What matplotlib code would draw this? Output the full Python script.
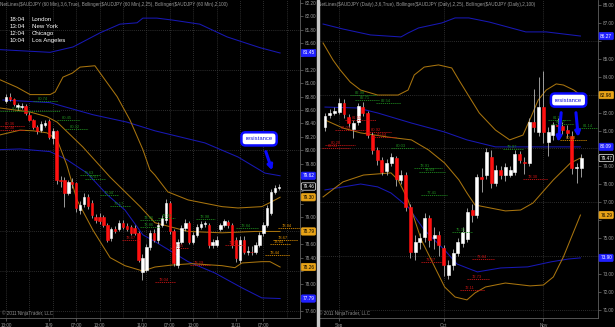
import numpy as np
import matplotlib
matplotlib.use("Agg")
import matplotlib.pyplot as plt

plt.rcParams['font.family'] = ['Liberation Sans', 'DejaVu Sans']

# ---------------- AUDJPY 60 min ----------------
h_open = [80.73, 80.80, 80.76, 80.64, 80.64, 80.66, 80.53, 80.45, 80.34, 80.30,
          80.38, 80.43, 80.18, 80.28, 79.56, 79.56, 79.37, 79.52, 79.51, 79.11,
          79.20, 79.31, 79.22, 79.01, 79.01, 79.01, 78.89, 78.69, 78.83, 78.82,
          78.92, 78.87, 78.86, 78.84, 78.77, 78.19, 78.22, 78.56, 78.77, 78.67,
          78.89, 78.96, 79.22, 78.79, 78.29, 78.64, 78.84, 78.92, 78.64, 78.74,
          78.86, 78.90, 78.88, 78.59, 78.59, 78.82, 78.89, 78.93, 78.88, 78.67,
          78.37, 78.67, 78.49, 78.49, 78.49, 78.59, 78.76, 78.89, 79.07, 79.38,
          79.44]
h_close = [80.80, 80.76, 80.69, 80.67, 80.66, 80.56, 80.45, 80.34, 80.29, 80.39,
           80.41, 80.20, 80.28, 79.56, 79.54, 79.37, 79.52, 79.49, 79.14, 79.19,
           79.31, 79.17, 79.04, 78.96, 78.94, 78.89, 78.67, 78.82, 78.79, 78.92,
           78.86, 78.83, 78.77, 78.77, 78.37, 78.40, 78.56, 78.77, 78.67, 78.89,
           78.99, 79.22, 78.79, 78.32, 78.64, 78.84, 78.92, 78.64, 78.74, 78.86,
           78.90, 78.91, 78.59, 78.64, 78.67, 78.88, 78.94, 78.88, 78.59, 78.39,
           78.67, 78.49, 78.50, 78.48, 78.59, 78.74, 78.89, 79.14, 79.38, 79.44,
           79.46]
h_high = [80.84, 80.85, 80.78, 80.70, 80.71, 80.69, 80.57, 80.47, 80.37, 80.44,
          80.45, 80.47, 80.33, 80.30, 79.62, 79.60, 79.56, 79.58, 79.53, 79.24,
          79.36, 79.35, 79.26, 79.05, 79.06, 79.04, 78.92, 78.86, 78.87, 78.96,
          78.96, 78.91, 78.89, 78.88, 78.80, 78.45, 78.60, 78.81, 78.82, 78.93,
          79.04, 79.27, 79.25, 78.82, 78.68, 78.88, 78.97, 78.95, 78.78, 78.90,
          78.94, 78.95, 78.92, 78.68, 78.72, 78.91, 78.97, 78.96, 78.91, 78.70,
          78.72, 78.72, 78.58, 78.57, 78.64, 78.78, 78.93, 79.18, 79.42, 79.48,
          79.50]
h_low = [80.70, 80.74, 80.66, 80.60, 80.62, 80.53, 80.43, 80.31, 80.25, 80.27,
         80.35, 80.17, 80.10, 79.50, 79.45, 79.16, 79.33, 79.44, 79.08, 79.05,
         79.16, 79.12, 78.99, 78.92, 78.90, 78.85, 78.63, 78.65, 78.76, 78.79,
         78.83, 78.80, 78.73, 78.74, 78.33, 78.07, 78.18, 78.52, 78.63, 78.62,
         78.85, 78.92, 78.75, 78.27, 78.25, 78.60, 78.80, 78.60, 78.60, 78.70,
         78.83, 78.86, 78.55, 78.55, 78.56, 78.79, 78.85, 78.84, 78.55, 78.33,
         78.32, 78.45, 78.44, 78.44, 78.46, 78.56, 78.72, 78.86, 79.03, 79.35,
         79.41]
h_xticks = [0, 11, 18, 24, 35, 42, 48, 59, 66]
h_xlabels = ["13:00", "11/9", "07:00", "13:00", "11/10", "07:00", "13:00", "11/11", "07:00"]

# Bollinger bands, (bar, price)
h_bb100_upper = [(-1.5, 81.50), (11.3, 81.46), (17.2, 81.54), (24.1, 81.75), (29.2, 81.88),
                 (33.6, 81.90), (35.1, 81.97), (38.7, 81.97), (42.8, 81.94), (49.7, 81.88),
                 (56.7, 81.69), (65.1, 81.53), (70.3, 81.45)]
h_bb100_mid = [(-0.8, 80.75), (11.3, 80.71), (22.3, 80.53), (31.0, 80.42), (38.2, 80.29),
               (51.0, 80.11), (59.5, 79.90), (66.4, 79.66), (70.3, 79.62)]
h_bb100_lower = [(-1.5, 80.01), (3.6, 80.02), (11.3, 79.98), (15.6, 79.86), (20.8, 79.66),
                 (25.9, 79.34), (30.5, 79.11), (35.1, 78.74), (38.2, 78.64), (46.7, 78.34),
                 (53.6, 78.17), (60.5, 77.95), (65.6, 77.80), (70.3, 77.79)]
h_bb25_upper = [(-1.5, 81.05), (2.8, 80.94), (6.2, 80.83), (11.3, 80.83), (12.6, 80.87),
                (14.6, 81.09), (17.0, 81.15), (19.0, 81.24), (22.8, 81.26), (24.9, 81.09),
                (28.5, 80.80), (31.8, 80.45), (35.1, 80.01), (36.9, 79.71), (38.2, 79.63),
                (41.5, 79.38), (46.7, 79.26), (55.4, 79.16), (59.5, 79.14), (65.6, 79.16),
                (67.7, 79.22), (70.3, 79.30)]
h_bb25_mid = [(-1.5, 80.63), (6.2, 80.57), (10.5, 80.50), (13.1, 80.42), (19.7, 80.05),
              (26.7, 79.60), (34.4, 79.16), (38.2, 78.92), (46.7, 78.79), (55.4, 78.77),
              (63.8, 78.79), (70.3, 78.79)]
h_bb25_lower = [(-1.5, 80.23), (3.6, 80.30), (7.0, 80.29), (10.5, 80.26), (13.1, 80.16),
                (15.6, 79.78), (18.2, 79.26), (22.3, 78.81), (26.7, 78.40), (30.5, 78.28),
                (35.1, 78.20), (38.2, 78.26), (42.6, 78.29), (47.7, 78.31), (55.4, 78.28),
                (58.7, 78.25), (60.5, 78.32), (65.6, 78.34), (67.7, 78.34), (70.3, 78.26)]

# NetLines: (start bar, end bar, price, kind)
h_netlines = [(6.9, 13.3, 80.74, 'g'), (-1.5, 13.8, 80.59, 'g'), (13.1, 19.0, 80.45, 'g'),
              (15.1, 21.0, 80.32, 'g'), (-1.5, 4.9, 80.36, 'r'), (-1.5, 4.9, 80.30, 'r'),
              (19.0, 24.1, 79.63, 'g'), (20.3, 25.4, 79.57, 'g'), (24.1, 28.7, 79.34, 'g'),
              (26.7, 31.8, 79.17, 'g'), (34.4, 39.5, 78.96, 'g'), (34.4, 39.5, 78.86, 'g'),
              (29.7, 34.4, 78.67, 'r'), (39.0, 43.3, 78.99, 'g'), (48.7, 53.6, 78.98, 'g'),
              (59.0, 64.6, 78.84, 'g'), (42.0, 46.7, 78.55, 'r'), (47.2, 52.3, 78.29, 'r'),
              (38.2, 43.3, 78.04, 'r'), (56.2, 61.3, 78.59, 'r'), (69.7, 75.4, 78.84, 'o'),
              (68.5, 74.9, 78.67, 'o'), (67.7, 72.8, 78.61, 'o'), (66.4, 72.8, 78.44, 'o')]

# ---------------- AUDJPY daily ----------------
d_open = [81.20, 81.87, 81.98, 82.04, 82.54, 81.76, 81.09, 81.48, 82.31, 81.98,
          80.75, 79.92, 79.36, 78.75, 79.19, 79.45, 78.25, 78.52, 76.74, 74.23,
          74.79, 75.07, 76.13, 75.01, 75.18, 74.46, 72.95, 73.51, 74.18, 74.73,
          74.95, 76.57, 76.29, 78.41, 78.52, 79.53, 78.08, 78.80, 78.52, 78.52,
          78.69, 79.70, 79.25, 79.19, 81.48, 80.92, 82.31, 80.36, 80.75, 81.31,
          81.25, 81.03, 80.70, 78.91, 78.91]
d_close = [81.81, 81.98, 82.09, 82.54, 81.90, 81.42, 81.42, 82.37, 81.98, 80.75,
           79.92, 79.36, 78.69, 79.19, 79.53, 78.30, 78.52, 76.74, 74.23, 74.79,
           75.01, 76.13, 74.90, 75.18, 74.62, 73.51, 73.51, 74.18, 74.79, 75.35,
           76.46, 76.29, 78.41, 78.30, 79.81, 78.08, 78.80, 78.52, 78.97, 78.80,
           79.70, 79.36, 79.19, 81.48, 81.20, 82.31, 80.92, 80.92, 81.31, 81.25,
           81.03, 80.87, 78.91, 78.95, 79.47]
d_high = [82.00, 82.20, 82.30, 82.80, 82.75, 81.95, 81.60, 82.55, 82.60, 82.10,
          80.90, 80.10, 79.50, 79.40, 79.75, 79.60, 78.80, 78.70, 76.90, 75.20,
          75.30, 76.40, 76.30, 75.60, 75.40, 74.60, 73.80, 74.40, 75.00, 75.60,
          76.70, 76.90, 78.60, 78.90, 80.00, 79.90, 79.10, 79.00, 79.20, 79.00,
          79.90, 79.85, 79.50, 81.70, 83.30, 84.00, 84.30, 81.20, 81.50, 81.70,
          81.50, 81.30, 81.00, 79.20, 79.70]
d_low = [80.95, 81.70, 81.85, 81.95, 81.70, 81.20, 80.60, 81.30, 81.80, 80.60,
         79.70, 79.10, 78.50, 78.55, 79.00, 77.90, 78.00, 76.50, 73.90, 73.80,
         74.40, 74.80, 74.50, 74.40, 74.00, 72.90, 72.70, 73.20, 74.00, 74.50,
         74.80, 75.90, 76.10, 77.60, 78.30, 77.80, 77.90, 78.30, 78.20, 78.40,
         78.50, 79.20, 78.60, 79.00, 80.90, 80.70, 80.30, 79.60, 80.50, 80.90,
         80.80, 80.60, 78.60, 78.10, 78.40]
d_xticks = [3, 25, 46]
d_xlabels = ["Sep", "Oct", "Nov"]

d_bb100_upper = [(-0.4, 86.94), (3.8, 86.66), (9.6, 86.33), (16.0, 86.22), (17.5, 86.44),
                 (19.7, 86.72), (24.6, 87.00), (27.4, 87.28), (30.3, 87.28), (34.6, 87.05),
                 (42.3, 86.50), (46.6, 86.50), (53.8, 86.27)]
d_bb100_mid = [(0, 82.31), (6.8, 82.26), (11.1, 81.98), (18.2, 81.42), (25.2, 80.92),
               (29.9, 80.48), (35.9, 80.09), (53.8, 80.09)]
d_bb100_lower = [(0, 77.69), (7.5, 78.02), (11.1, 77.86), (13.9, 77.52), (17.5, 76.74),
                 (20.9, 75.46), (25.2, 74.34), (27.8, 73.56), (31.0, 73.23), (32.1, 73.12),
                 (37.0, 73.34), (42.7, 73.40), (47.6, 73.68), (51.3, 73.84), (53.8, 73.90)]
d_bb25_upper = [(-0.4, 85.88), (1.7, 84.93), (3.2, 84.38), (5.3, 83.71), (7.5, 83.26),
                (11.1, 82.98), (15.4, 82.98), (17.5, 83.26), (18.8, 84.10), (20.9, 84.54),
                (23.9, 84.66), (26.7, 84.49), (28.2, 83.82), (29.9, 83.09), (32.5, 81.98),
                (35.9, 81.03), (38.9, 80.48), (41.7, 80.75), (43.4, 81.76), (44.9, 82.70),
                (46.6, 83.26), (48.7, 83.60), (50.2, 83.54), (52.4, 83.26), (53.8, 82.98)]
d_bb25_mid = [(0, 81.59), (3.8, 81.14), (7.5, 80.87), (13.2, 80.64), (18.2, 80.48),
              (21.8, 79.92), (25.2, 79.19), (28.2, 78.25), (29.9, 77.52), (31.6, 76.85),
              (38.0, 76.52), (41.2, 76.57), (43.8, 76.96), (48.1, 78.25), (51.7, 79.19),
              (53.8, 79.47)]
d_bb25_lower = [(-0.4, 77.30), (3.8, 78.14), (8.1, 78.52), (13.9, 78.64), (15.4, 78.25),
                (17.5, 77.13), (20.3, 74.90), (23.1, 73.40), (25.2, 72.28), (27.4, 71.72),
                (29.9, 71.56), (31.6, 71.95), (33.8, 72.28), (38.0, 72.50), (43.2, 72.34),
                (46.0, 72.39), (48.1, 72.84), (50.2, 73.95), (53.8, 76.29)]

d_netlines = [(5.3, 10.7, 82.98, 'g'), (6.4, 11.3, 82.71, 'g'), (10.7, 16.0, 82.54, 'g'),
              (4.3, 10.7, 81.59, 'r'), (2.1, 8.5, 81.03, 'r'), (8.5, 13.9, 80.92, 'r'),
              (10.0, 15.0, 80.64, 'r'), (0.0, 6.4, 80.20, 'r'), (-0.6, 5.3, 80.03, 'r'),
              (13.9, 18.8, 80.03, 'g'), (18.8, 24.6, 78.91, 'g'), (19.9, 25.2, 78.69, 'g'),
              (20.3, 25.6, 77.41, 'g'), (47.0, 51.9, 81.59, 'g'), (47.6, 52.4, 81.37, 'g'),
              (53.4, 58.3, 81.14, 'g'), (49.6, 55.1, 80.48, 'o'), (37.4, 41.7, 79.97, 'g'),
              (41.7, 47.0, 78.30, 'r'), (26.7, 31.0, 75.35, 'g'), (20.3, 24.6, 73.67, 'r'),
              (31.0, 35.7, 73.84, 'r'), (29.9, 34.6, 72.73, 'r'), (28.4, 33.8, 72.11, 'r')]

NET_COL = {'g': '#1f8a1f', 'r': '#c81414', 'o': '#d98c00'}
BLUE = '#1818b4'
ORANGE = '#a8740e'
GRID = '#3c3c3c'
TXT = '#9a9a9a'
BOX_BLUE = '#2020ff'
BOX_ORANGE = '#e8a317'

fig = plt.figure(figsize=(6.15, 3.27), dpi=100, facecolor='black')
ax1 = fig.add_axes([0, 9 / 327, 300 / 615, 318 / 327], facecolor='black')
ax2 = fig.add_axes([318 / 615, 9 / 327, 280 / 615, 318 / 327], facecolor='black')


def candles(ax, o, h, l, c, w=0.62):
    o, h, l, c = map(np.asarray, (o, h, l, c))
    x = np.arange(len(o))
    up = c >= o
    ax.vlines(x, l, h, color='#b4b4b4', lw=0.6, zorder=3)
    ax.bar(x[up], (c - o)[up], bottom=o[up], width=w, color='white',
           edgecolor='white', lw=0.4, zorder=4)
    ax.bar(x[~up], (c - o)[~up], bottom=o[~up], width=w, color='#ff1010',
           edgecolor='#ff1010', lw=0.4, zorder=4)


def band(ax, pts, col):
    xs, ys = zip(*pts)
    ax.plot(xs, ys, color=col, lw=0.75, zorder=2)


def axboxes(ax, boxes, near):
    # value boxes on the price axis; they hide the tick labels underneath
    labels = []
    for t in ax.get_yticks():
        hidden = any(abs(t - v) < near for v, _, _, _ in boxes)
        labels.append("" if hidden else f"{t:.2f}")
    ax.set_yticks(ax.get_yticks())
    ax.set_yticklabels(labels)
    for v, fc, tc, ec in boxes:
        ax.text(1.008, v, f"{v:.2f}", transform=ax.get_yaxis_transform(), fontsize=3.4,
                color=tc, va='center', ha='left', clip_on=False, zorder=10,
                bbox=dict(boxstyle='round,pad=0.25', fc=fc, ec=ec, lw=0.5))


def setup(ax, xlim, ylim, yticks, ygrid, xgrid, xticks, xlabels, header):
    ax.set_xlim(*xlim)
    ax.set_ylim(*ylim)
    ax.yaxis.tick_right()
    ax.set_yticks(yticks)
    ax.set_xticks(xticks)
    ax.set_xticklabels(xlabels)
    ax.tick_params(colors='#707070', labelcolor=TXT, labelsize=3.3, length=2,
                   width=0.5, pad=1.5)
    for s in ['top', 'left']:
        ax.spines[s].set_visible(False)
    for s in ['right', 'bottom']:
        ax.spines[s].set_color('#606060')
        ax.spines[s].set_linewidth(0.6)
    for g in ygrid:
        ax.axhline(g, color=GRID, lw=0.6, ls=(0, (1, 1.5)), zorder=1)
    for g in xgrid:
        ax.axvline(g, color=GRID, lw=0.6, ls=(0, (1, 1.5)), zorder=1)
    ax.text(0.0, 0.995, header, transform=ax.transAxes, fontsize=3.3, color=TXT,
            va='top', ha='left')
    ax.text(0.005, 0.006, "\u00a9 2011 NinjaTrader, LLC", transform=ax.transAxes,
            fontsize=3.3, color='#8a8a8a', va='bottom', ha='left')


def netlines(ax, lines):
    for x0, x1, p, k in lines:
        col = NET_COL[k]
        ax.hlines(p, x0, x1, colors=col, lw=0.6, ls=(0, (1.5, 1)), zorder=5)
        ax.text(x0 + (x1 - x0) * 0.2, p, f"{p:.2f}", fontsize=3.0, color=col,
                va='bottom', ha='left', zorder=5)


# ----- left panel -----
setup(ax1, (-1.54, 75.4), (77.50, 82.24), np.round(np.arange(77.6, 82.21, 0.2), 2),
      [81.8, 81.2, 80.6, 80.0, 79.4, 78.8, 78.2, 77.6], list(range(0, 73, 6)),
      h_xticks, h_xlabels,
      "NetLines($AUDJPY (60 Min),3,6,True), Bollinger($AUDJPY (60 Min),2,25), "
      "Bollinger($AUDJPY (60 Min),2,100)")
for pts in (h_bb100_upper, h_bb100_mid, h_bb100_lower):
    band(ax1, pts, BLUE)
for pts in (h_bb25_upper, h_bb25_mid, h_bb25_lower):
    band(ax1, pts, ORANGE)
netlines(ax1, h_netlines)
candles(ax1, h_open, h_high, h_low, h_close)

for i, (t, city) in enumerate([("18:04", "London"), ("13:04", "New York"),
                               ("12:04", "Chicago"), ("10:04", "Los Angeles")]):
    fig.text(10 / 615, 1 - (19.5 + 7.1 * i) / 327, t, fontsize=4.4, color='white',
             va='center')
    fig.text(32 / 615, 1 - (19.5 + 7.1 * i) / 327, city, fontsize=4.4, color='white',
             va='center')

axboxes(ax1, [(h_bb100_upper[-1][1], BOX_BLUE, 'white', BOX_BLUE),
              (h_bb100_mid[-1][1], BOX_BLUE, 'white', BOX_BLUE),
              (h_close[-1], 'black', 'white', 'white'),
              (h_bb25_upper[-1][1], BOX_ORANGE, 'black', BOX_ORANGE),
              (h_bb25_mid[-1][1], BOX_ORANGE, 'black', BOX_ORANGE),
              (h_bb25_lower[-1][1], BOX_ORANGE, 'black', BOX_ORANGE),
              (h_bb100_lower[-1][1], BOX_BLUE, 'white', BOX_BLUE)], 0.12)

ax1.text(64.9, 80.17, "resistance", fontsize=4.2, color='#1010e0', ha='center',
         va='center', zorder=12,
         bbox=dict(boxstyle='round,pad=0.7', fc='white', ec='#0a0aff', lw=1.8))
ax1.annotate('', xy=(68.5, 79.66), xytext=(66.4, 80.02), zorder=12,
             arrowprops=dict(arrowstyle='-|>', color='#0a0aff', lw=2.2, mutation_scale=7))

# ----- right panel -----
setup(ax2, (-1.47, 57.5), (70.55, 88.279), np.arange(71, 89, 1.0),
      [86, 83, 80, 77, 74, 71], d_xticks, d_xticks, d_xlabels,
      "NetLines($AUDJPY (Daily),3,6,True), Bollinger($AUDJPY (Daily),2,25), "
      "Bollinger($AUDJPY (Daily),2,100)")
for pts in (d_bb100_upper, d_bb100_mid, d_bb100_lower):
    band(ax2, pts, BLUE)
for pts in (d_bb25_upper, d_bb25_mid, d_bb25_lower):
    band(ax2, pts, ORANGE)
netlines(ax2, d_netlines)
candles(ax2, d_open, d_high, d_low, d_close)

axboxes(ax2, [(d_bb100_upper[-1][1], BOX_BLUE, 'white', BOX_BLUE),
              (d_bb25_upper[-1][1], BOX_ORANGE, 'black', BOX_ORANGE),
              (d_bb100_mid[-1][1], BOX_BLUE, 'white', BOX_BLUE),
              (d_close[-1], 'black', 'white', 'white'),
              (d_bb25_lower[-1][1], BOX_ORANGE, 'black', BOX_ORANGE),
              (d_bb100_lower[-1][1], BOX_BLUE, 'white', BOX_BLUE)], 0.45)

ax2.text(51.3, 82.70, "resistance", fontsize=4.2, color='#1010e0', ha='center',
         va='center', zorder=12,
         bbox=dict(boxstyle='round,pad=0.7', fc='white', ec='#0a0aff', lw=1.8))
for (x0, y0), (x1, y1) in [((49.8, 82.15), (49.1, 80.20)), ((52.8, 82.15), (53.4, 80.48))]:
    ax2.annotate('', xy=(x1, y1), xytext=(x0, y0), zorder=12,
                 arrowprops=dict(arrowstyle='-|>', color='#0a0aff', lw=2.2,
                                 mutation_scale=7))

# panel separator
fig.patches.append(plt.Rectangle((316.5 / 615, 0), 2.5 / 615, 1, transform=fig.transFigure,
                                 color='#c8c8c8', zorder=20))

fig.savefig("out.png", dpi=100, facecolor='black')
